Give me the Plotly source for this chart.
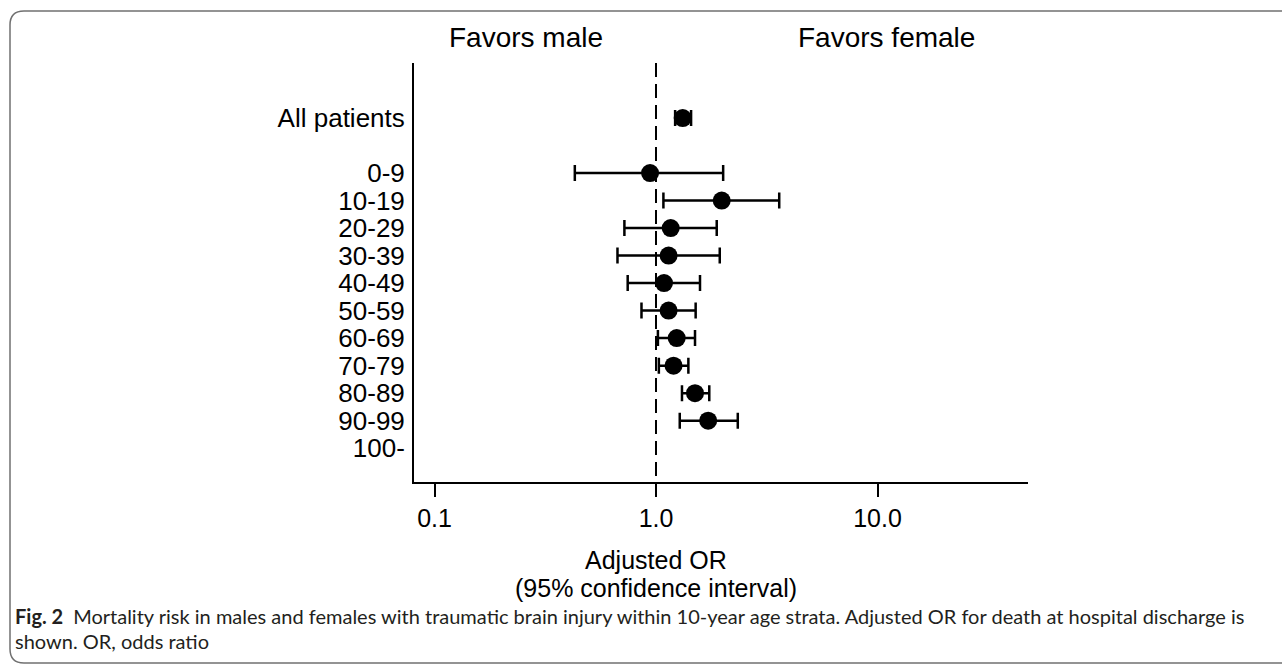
import math
import plotly.graph_objects as go

# ---------------- data ----------------
rows = ["All patients", "0-9", "10-19", "20-29", "30-39", "40-49", "50-59",
        "60-69", "70-79", "80-89", "90-99", "100-"]
odds_ratio = [1.32, 0.94, 1.98, 1.165, 1.14, 1.087, 1.14, 1.24, 1.20, 1.50, 1.72, None]
ci_lower = [1.22, 0.43, 1.08, 0.72, 0.67, 0.745, 0.86, 1.02, 1.03, 1.31, 1.28, None]
ci_upper = [1.44, 2.01, 3.60, 1.88, 1.94, 1.58, 1.51, 1.50, 1.40, 1.74, 2.34, None]
x_tick_vals = [0.1, 1.0, 10.0]
x_tick_text = ["0.1", "1.0", "10.0"]
side_labels = ["Favors male", "Favors female"]
x_title = ["Adjusted OR", "(95% confidence interval)"]
caption_1 = ("<b>Fig. 2</b>\u2002Mortality risk in males and females with traumatic brain injury "
             "within 10-year age strata. Adjusted OR for death at hospital discharge is")
caption_2 = "shown. OR, odds ratio"

# row positions: summary row, one blank gap row, then the strata
ypos = [0] + [i + 2 for i in range(len(rows) - 1)]

plus = [(u - o) if o is not None else None for o, u in zip(odds_ratio, ci_upper)]
minus = [(o - l) if o is not None else None for o, l in zip(odds_ratio, ci_lower)]

# ---------------- layout geometry ----------------
W, H = 1282, 666
L, R, T, B = 414, 1028, 63, 482
y_range = [13.23, -2.0]
x_range = [-1.0926, 1.6795]

def px_x(p):
    return (p - L) / (R - L)

def px_y(p):
    return (B - p) / (B - T)

fig = go.Figure()

# reference line at OR = 1
fig.add_trace(go.Scatter(
    x=[1.0, 1.0], y=[y_range[1], y_range[0]], mode="lines",
    line=dict(color="black", width=2, dash="14px,7px"),
    hoverinfo="skip", showlegend=False, cliponaxis=False))

fig.add_trace(go.Scatter(
    x=odds_ratio, y=ypos, mode="markers",
    marker=dict(color="black", size=18, symbol="circle"),
    error_x=dict(type="data", symmetric=False, array=plus, arrayminus=minus,
                 color="black", thickness=2.5, width=8),
    showlegend=False))

fig.update_xaxes(
    type="log", range=x_range, tickvals=x_tick_vals, ticktext=x_tick_text,
    showline=True, linecolor="black", linewidth=2, mirror=False,
    ticks="outside", ticklen=13, tickwidth=2, tickcolor="black",
    showgrid=False, zeroline=False,
    tickfont=dict(family="Liberation Sans, Arial, sans-serif", size=25, color="black"))

fig.update_yaxes(
    range=y_range, tickvals=ypos, ticktext=rows,
    showline=True, linecolor="black", linewidth=2, ticks="",
    showgrid=False, zeroline=False, ticklabelstandoff=2,
    tickfont=dict(family="Liberation Sans, Arial, sans-serif", size=26, color="black"))

ann = []
# favors labels
for lab, px_c in zip(side_labels, [525.5, 886]):
    ann.append(dict(text=lab, x=(px_c - 656) / 221.5, xref="x", y=px_y(38), yref="paper",
                    xanchor="center", yanchor="middle", showarrow=False,
                    font=dict(family="Liberation Sans, Arial, sans-serif", size=28, color="black")))
# x title (two lines)
for txt, py in zip(x_title, [560, 588]):
    ann.append(dict(text=txt, x=0, xref="x", y=px_y(py), yref="paper",
                    xanchor="center", yanchor="middle", showarrow=False,
                    font=dict(family="Liberation Sans, Arial, sans-serif", size=25, color="black")))
# caption
for txt, py in zip([caption_1, caption_2], [616, 641]):
    ann.append(dict(text=txt, x=px_x(13), xref="paper", y=px_y(py), yref="paper",
                    xanchor="left", yanchor="middle", showarrow=False,
                    font=dict(family="Lato, Open Sans, sans-serif", size=20, color="#231f20")))

# rounded border frame (right edge runs off the image)
bl, bt, br, bb, rad = 10, 11, 1300, 663, 14
path = (f"M {px_x(br)},{px_y(bt)} L {px_x(bl + rad)},{px_y(bt)} "
        f"Q {px_x(bl)},{px_y(bt)} {px_x(bl)},{px_y(bt + rad)} "
        f"L {px_x(bl)},{px_y(bb - rad)} "
        f"Q {px_x(bl)},{px_y(bb)} {px_x(bl + rad)},{px_y(bb)} "
        f"L {px_x(br)},{px_y(bb)}")
shapes = [dict(type="path", path=path, xref="paper", yref="paper",
               line=dict(color="#707070", width=1.5))]

fig.update_layout(
    width=W, height=H,
    margin=dict(l=L, r=W - R, t=T, b=H - B, pad=0),
    paper_bgcolor="white", plot_bgcolor="white",
    annotations=ann, shapes=shapes, showlegend=False)

fig.write_html(
    "out.html",
    config={"displayModeBar": False},
    post_script="document.body.style.margin='0';document.body.style.overflow='hidden';")
